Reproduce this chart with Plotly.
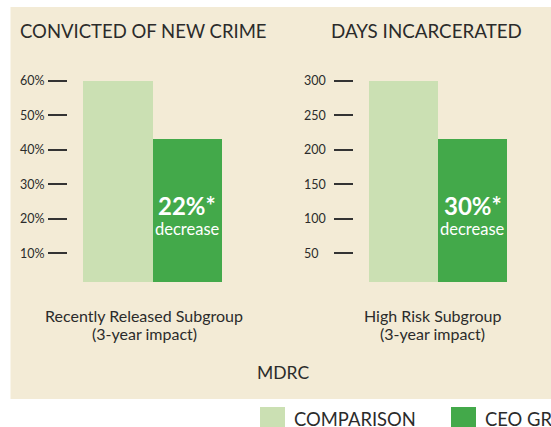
import plotly.graph_objects as go

# ---------------- data ----------------
groups = ["Comparison", "CEO Group"]
crime_values = [60, 43]            # % convicted of new crime
days_values = [300, 215]           # days incarcerated
crime_ticks = [10, 20, 30, 40, 50, 60]
crime_tick_labels = ["10%", "20%", "30%", "40%", "50%", "60%"]
days_ticks = [50, 100, 150, 200, 250, 300]
days_tick_labels = ["50", "100", "150", "200", "250", "300"]
titles = ["CONVICTED OF NEW CRIME", "DAYS INCARCERATED"]
subgroup_names = ["Recently Released Subgroup", "High Risk Subgroup"]
subgroup_notes = ["(3-year impact)", "(3-year impact)"]
impact_big = ["22%*", "30%*"]
impact_small = ["decrease", "decrease"]
source = "MDRC"
legend_labels = ["COMPARISON", "CEO GROUP"]

# ---------------- style ----------------
W, H = 551, 427
LIGHT = "#CBE0B3"
DARK = "#43A94A"
BEIGE = "#F3EBD6"
TEXT = "#2B2B2B"
FONT = "Lato"

def px(x):
    return x / W

def py(y):
    return 1 - y / H

fig = go.Figure()
fig.add_trace(go.Bar(x=groups, y=crime_values, marker_color=[LIGHT, DARK],
                     marker_line_width=0, width=1, xaxis="x", yaxis="y",
                     showlegend=False, hoverinfo="skip"))
fig.add_trace(go.Bar(x=groups, y=days_values, marker_color=[LIGHT, DARK],
                     marker_line_width=0, width=1, xaxis="x2", yaxis="y2",
                     showlegend=False, hoverinfo="skip"))

# pixel geometry (window pixels)
top_px, bot_px = 70, 282
zero_px = 287.8
vmax_px = 80.7

def yrange(vmax_tick):
    ppu = (zero_px - vmax_px) / vmax_tick
    return [(zero_px - bot_px) / ppu, vmax_tick + (vmax_px - top_px) / ppu]

def xrange(left_px, bar_l, bar_r, right_px):
    ppu = (bar_r - bar_l) / 2
    return [-0.5 - (bar_l - left_px) / ppu, 1.5 + (right_px - bar_r) / ppu]

xa_common = dict(showgrid=False, zeroline=False, showline=False, showticklabels=False,
                 ticks="", fixedrange=True, type="category")
ya_common = dict(showgrid=False, zeroline=False, showline=False, showticklabels=False,
                 ticks="outside", ticklen=19, tickwidth=1.5, tickcolor="#333333",
                 fixedrange=True)

fig.update_layout(
    width=W, height=H,
    margin=dict(l=0, r=0, t=0, b=0),
    paper_bgcolor="white",
    plot_bgcolor="rgba(0,0,0,0)",
    bargap=0,
    font=dict(family=FONT, color=TEXT),
    xaxis=dict(domain=[px(68), px(240)], range=xrange(68, 83, 222, 240), anchor="y", **xa_common),
    yaxis=dict(domain=[py(bot_px), py(top_px)], range=yrange(60), anchor="x",
               tickvals=crime_ticks, **ya_common),
    xaxis2=dict(domain=[px(354), px(530)], range=xrange(354, 369, 507, 530), anchor="y2", **xa_common),
    yaxis2=dict(domain=[py(bot_px), py(top_px)], range=yrange(300), anchor="x2",
                tickvals=days_ticks, **ya_common),
)

shapes = [
    dict(type="rect", xref="paper", yref="paper", x0=px(10.5), x1=1.0, y0=py(399), y1=py(7),
         fillcolor=BEIGE, line_width=0, layer="below"),
    dict(type="rect", xref="paper", yref="paper", x0=px(260), x1=px(285), y0=0, y1=py(407),
         fillcolor=LIGHT, line_width=0),
    dict(type="rect", xref="paper", yref="paper", x0=px(451), x1=px(476), y0=0, y1=py(407),
         fillcolor=DARK, line_width=0),
]

def note(text, x, y, size, xanchor="left", color=TEXT, xref="paper", yref="paper"):
    return dict(text=text, x=x, y=y, xref=xref, yref=yref, xanchor=xanchor, yanchor="middle",
                showarrow=False, font=dict(size=size, color=color), borderpad=0, borderwidth=0)

ann = []
# titles
ann.append(note(titles[0], px(20), py(31), 18.5))
ann.append(note(titles[1], px(330.5), py(31), 18.8))
# tick labels (left aligned)
for v, t in zip(crime_ticks, crime_tick_labels):
    ann.append(note(t, px(20), v, 12.5, yref="y"))
for v, t in zip(days_ticks, days_tick_labels):
    ann.append(note(t, px(304), v, 12.5, yref="y2"))
# impact labels in CEO bars
for xr, big, small in [("x", impact_big[0], impact_small[0]), ("x2", impact_big[1], impact_small[1])]:
    ann.append(note("<b>" + big + "</b>", groups[1], py(205.5), 24, xanchor="center",
                    color="white", xref=xr))
    ann.append(note(small, groups[1], py(228.5), 16.5, xanchor="center",
                    color="white", xref=xr))
# subgroup labels
for cx, name, sub in [(144, subgroup_names[0], subgroup_notes[0]),
                      (432, subgroup_names[1], subgroup_notes[1])]:
    ann.append(note(name, px(cx), py(315), 16, xanchor="center"))
    ann.append(note(sub, px(cx), py(333.5), 16, xanchor="center"))
# source
ann.append(note(source, px(283), py(372), 17.5, xanchor="center"))
# legend labels
ann.append(note(legend_labels[0], px(294), py(419), 18.4))
ann.append(note(legend_labels[1], px(485), py(419), 18.4))

fig.update_layout(shapes=shapes, annotations=ann)
fig.write_html("out.html", config={"displayModeBar": False},
               post_script="document.body.style.margin='0';"
                           "document.documentElement.style.overflow='hidden';"
                           "document.body.style.overflow='hidden';")
